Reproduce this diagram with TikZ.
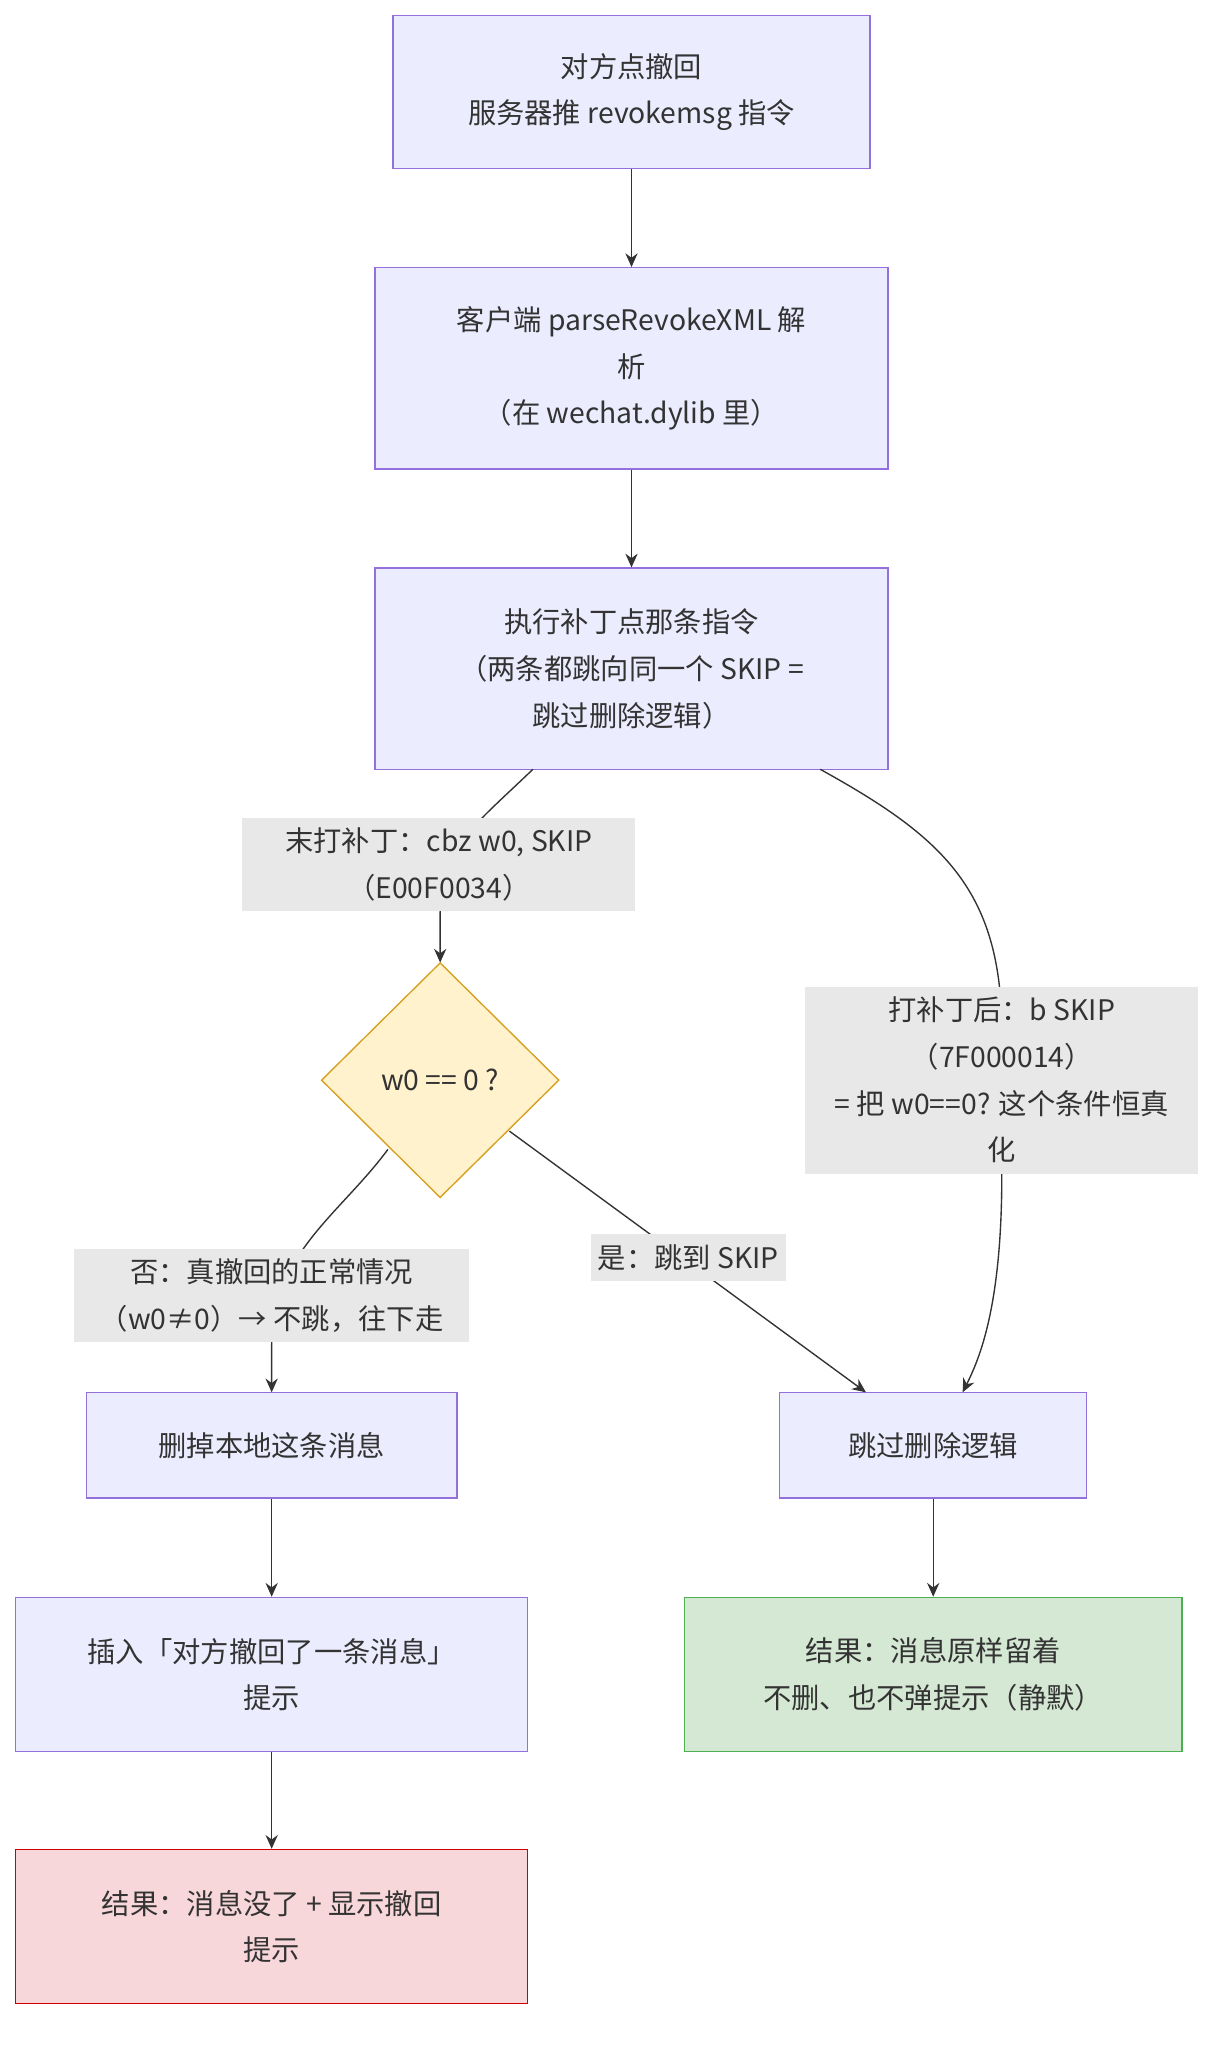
\documentclass[tikz,border=0pt]{standalone}
\usepackage{fontspec}
\setmainfont{Noto Sans CJK SC}
\usetikzlibrary{shapes.geometric,arrows.meta}
\definecolor{boxf}{HTML}{ECECFF}
\definecolor{boxs}{HTML}{9370DB}
\definecolor{txt}{HTML}{333333}
\definecolor{lblbg}{HTML}{E8E8E8}
\definecolor{gf}{HTML}{D5E8D4}
\definecolor{gs}{HTML}{4CAF50}
\definecolor{rf}{HTML}{F8D7DA}
\definecolor{rs}{HTML}{D00000}
\definecolor{yf}{HTML}{FFF2CC}
\definecolor{ys}{HTML}{D6A020}
\tikzset{
  every node/.style={text=txt,font=\fontsize{18.5}{30.5}\selectfont,align=center},
  proc/.style={draw=boxs,fill=boxf,line width=0.9pt,inner sep=0pt},
  good/.style={draw=gs,fill=gf,line width=0.9pt,inner sep=0pt},
  bad/.style={draw=rs,fill=rf,line width=0.9pt,inner sep=0pt},
  lbl/.style={fill=lblbg,inner sep=0pt},
  conn/.style={draw=txt,line width=0.9pt,-{Stealth[length=9pt,width=8pt]}}
}
\begin{document}
\begin{tikzpicture}[x=0.03cm,y=-0.03cm]
\useasboundingbox (0,0) rectangle (943,1568);
\node[proc,minimum width=365*0.03cm,minimum height=117*0.03cm] (A) at (483.5,70.5) {对方点撤回\\服务器推 revokemsg 指令};
\node[proc,minimum width=393*0.03cm,minimum height=154*0.03cm] (B) at (483.5,282) {客户端 parseRevokeXML 解\\析\\（在 wechat.dylib 里）};
\node[proc,minimum width=393*0.03cm,minimum height=154*0.03cm] (C) at (483.5,512) {执行补丁点那条指令\\（两条都跳向同一个 SKIP =\\跳过删除逻辑）};
\node[diamond,draw=ys,fill=yf,line width=0.9pt,minimum width=182*0.03cm,minimum height=180*0.03cm,inner sep=0pt] (D) at (337,827) {w0 == 0 ?};
\node[proc,minimum width=284*0.03cm,minimum height=81*0.03cm] (E) at (208,1106.5) {删掉本地这条消息};
\node[proc,minimum width=235*0.03cm,minimum height=81*0.03cm] (F) at (714.5,1106.5) {跳过删除逻辑};
\node[proc,minimum width=392*0.03cm,minimum height=118*0.03cm] (G) at (208,1282) {插入「对方撤回了一条消息」\\提示};
\node[good,minimum width=381*0.03cm,minimum height=118*0.03cm] (H) at (714.5,1282) {结果：消息原样留着\\不删、也不弹提示（静默）};
\node[bad,minimum width=392*0.03cm,minimum height=118*0.03cm] (I) at (208,1475) {结果：消息没了 + 显示撤回\\提示};
\draw[conn] (A) -- (B);
\draw[conn] (B) -- (C);
\draw[conn] (E) -- (G);
\draw[conn] (G) -- (I);
\draw[conn] (F) -- (H);
\coordinate (c1) at (408,589);
\coordinate (c2) at (628,589);
\coordinate (d1) at (297,880);
\coordinate (d2) at (390,866);
\coordinate (dt) at (337,737);
\coordinate (f1) at (737,1066);
\coordinate (f2) at (663,1066);
\coordinate (e1) at (208,1066);
\draw[conn] (c1) .. controls (360,635) and (337,650) .. (337,700) -- (dt);
\draw[conn] (c2) .. controls (720,640) and (767,680) .. (767,790) -- (767,900) .. controls (767,1000) and (750,1040) .. (f1);
\draw[conn] (d1) .. controls (260,930) and (208,960) .. (208,1030) -- (e1);
\draw[conn] (d2) -- (f2);
\node[lbl,minimum width=301*0.03cm,minimum height=71*0.03cm] (L1) at (336,662) {末打补丁：cbz w0, SKIP\\（E00F0034）};
\node[lbl,minimum width=301*0.03cm,minimum height=143*0.03cm] (L2) at (767,827) {打补丁后：b SKIP\\（7F000014）\\= 把 w0==0? 这个条件恒真\\化};
\node[lbl,minimum width=149*0.03cm,minimum height=36*0.03cm] (L3) at (527,963) {是：跳到 SKIP};
\node[lbl,minimum width=302*0.03cm,minimum height=71*0.03cm] (L4) at (208,992) {否：真撤回的正常情况\\（w0≠0）→ 不跳，往下走};
\end{tikzpicture}
\end{document}
